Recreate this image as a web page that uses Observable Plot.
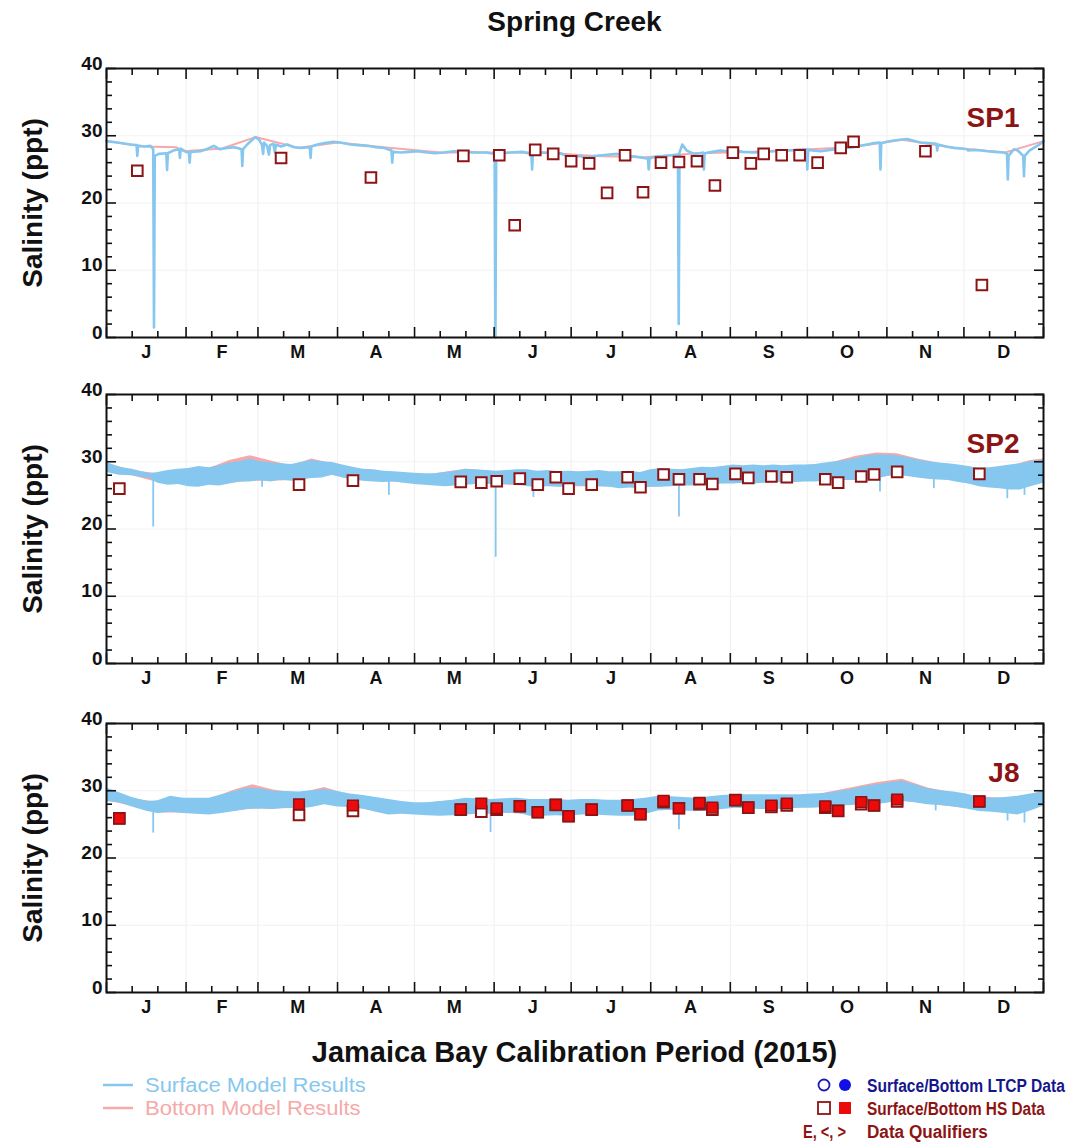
<!DOCTYPE html>
<html><head><meta charset="utf-8">
<script src="https://cdn.jsdelivr.net/npm/d3@7"></script>
<script src="https://cdn.jsdelivr.net/npm/@observablehq/plot@0.6"></script>
<style>
body{margin:0;background:#fff;}
#chart{position:relative;width:1076px;height:1144px;background:#fff;font-family:"Liberation Sans",Arial,Helvetica,sans-serif;overflow:hidden;}
.abs{position:absolute;}
</style></head><body><div id="chart"></div>
<script>
// ---------------- DATA ----------------
const monthLabels = ["J","F","M","A","M","J","J","A","S","O","N","D"];
const yTicks = [0,10,20,30,40];
const stations = ["SP1","SP2","J8"];

// Model results: [day of 2015 (0 = Jan 1), salinity ppt]
const sp1SurfaceModel = [[0,29.2],[4.2,29.0],[9.3,28.7],[11.7,28.6],[12.0,27.0],[12.3,28.5],[15,28.4],[17.1,28.5],[18.2,28.0],[18.5,1.5],[18.8,27.0],[20.4,27.3],[23.3,27.4],[23.6,24.9],[23.9,27.4],[26,27.8],[28.3,28.0],[28.6,26.7],[28.9,28.1],[31,27.6],[32.1,27.5],[32.4,26.0],[32.7,27.6],[36.6,27.7],[39,28.0],[41.8,28.5],[44,28.0],[47.0,28.2],[50,28.3],[52.6,28.0],[52.9,25.5],[53.2,28.0],[54.8,28.7],[56.5,29.3],[58.0,29.8],[59.5,29.4],[60.6,28.6],[61.0,27.3],[61.4,29.0],[62.5,28.5],[63.3,27.2],[63.7,28.6],[65.0,28.8],[65.6,27.5],[66.0,28.7],[68,28.4],[70.4,28.7],[73,28.3],[75.6,28.2],[79.2,28.3],[79.5,26.7],[79.8,28.4],[82.1,28.7],[85,28.9],[88.5,29.1],[91,29.0],[95.1,28.7],[98,28.6],[101.6,28.5],[105,28.3],[108.0,28.2],[111.0,27.8],[111.3,26.0],[111.6,27.6],[114.5,27.5],[118,27.6],[121.0,27.7],[124.9,27.5],[128,27.4],[131.4,27.5],[135.3,27.7],[140,27.6],[144.4,27.5],[148,27.5],[151.2,27.3],[151.5,0.0],[151.8,27.0],[154,27.4],[157.4,27.5],[162,27.6],[165.5,27.3],[165.8,25.0],[166.1,27.3],[170.3,27.5],[173,27.4],[176.9,27.4],[180.8,26.7],[184,27.0],[187,26.8],[189.8,27.0],[193,27.1],[195.7,27.2],[199,27.3],[202.8,27.0],[206,26.9],[209.3,26.7],[210.9,26.6],[211.2,25.0],[211.5,26.6],[214,26.9],[217.1,27.0],[220,27.1],[222.6,27.2],[222.9,2.0],[223.2,27.5],[224.3,28.7],[226,27.8],[228.8,27.3],[231,27.4],[232.4,27.5],[232.7,25.0],[233.0,27.4],[236,27.6],[239,27.8],[241.8,27.7],[245,27.8],[248,27.6],[252.2,27.5],[256,27.6],[260,27.7],[265.2,27.8],[269,27.9],[272.7,28.0],[273.0,25.0],[273.3,27.9],[275,27.8],[278.1,27.7],[282,27.9],[286,28.1],[291.1,28.3],[293.5,28.5],[296.3,28.7],[299,28.9],[301.2,29.0],[301.5,25.0],[301.8,28.9],[304,29.1],[306.7,29.3],[309,29.4],[311.9,29.5],[314,29.3],[317.1,29.0],[320,28.9],[323.3,28.8],[323.6,27.8],[323.9,28.7],[327,28.4],[330.1,28.2],[333,28.1],[335.3,28.0],[335.6,27.8],[338,27.9],[341,27.8],[343.1,27.7],[346,27.6],[349.5,27.5],[350.8,27.3],[351.1,23.5],[351.4,27.0],[353.5,28.0],[355,27.8],[357.1,27.0],[357.4,24.0],[357.7,27.0],[359.5,27.8],[361.2,28.2],[363,28.6],[364.5,29.0],[365,29.2]];
const sp1BottomModel = [[0,29.2],[15,28.4],[27,28.3],[30,27.7],[45,28.1],[58,29.8],[75,28.2],[90,29.0],[110,28.2],[130,27.5],[150,27.5],[170,27.5],[190,27.0],[210,26.8],[230,27.4],[250,27.6],[270,27.9],[290,28.3],[310,29.4],[330,28.2],[350,27.5],[365,29.2]];

// Banded model results: [day, low, high]
const sp2SurfaceBand = [[0,28.4,29.9],[5,28.0,29.2],[10,27.9,28.9],[15,27.6,28.4],[17,27.5,28.2],[20,26.8,28.4],[24,26.5,28.7],[28,26.6,28.9],[32,26.3,29.0],[36,26.2,29.3],[40,26.5,29.1],[44,26.4,29.4],[48,26.7,29.8],[52,27.0,30.0],[56,27.0,30.4],[60,27.2,30.0],[64,27.0,29.8],[68,27.3,29.7],[72,27.1,29.6],[76,27.3,29.9],[80,27.5,30.2],[84,27.6,30.0],[88,28.0,29.9],[92,27.6,29.5],[96,27.3,29.2],[100,27.1,28.9],[104,27.0,28.8],[108,26.9,28.6],[112,27.0,28.5],[116,26.8,28.4],[120,26.6,28.3],[124,26.5,28.2],[128,26.4,28.2],[132,26.3,28.4],[136,26.4,28.6],[140,26.5,28.9],[144,26.6,28.8],[148,26.7,28.7],[152,26.5,28.6],[156,26.6,28.7],[160,26.7,28.8],[164,26.3,28.8],[168,26.2,28.6],[172,26.3,28.7],[176,26.2,28.5],[180,26.2,28.6],[184,26.4,28.5],[188,26.3,28.6],[192,26.3,28.7],[196,26.2,28.5],[200,26.0,28.5],[204,26.1,28.6],[208,26.0,28.4],[212,26.2,28.8],[216,26.2,29.0],[220,26.3,28.9],[224,26.4,28.8],[228,26.4,29.0],[232,26.5,29.2],[236,26.6,29.1],[240,26.7,29.3],[244,26.7,29.5],[248,26.8,29.4],[252,26.7,29.5],[256,26.8,29.4],[260,26.9,29.5],[264,27.0,29.4],[268,26.9,29.5],[272,27.0,29.5],[276,27.0,29.6],[280,27.1,29.8],[284,27.2,30.0],[288,27.2,30.2],[292,27.2,30.5],[296,27.3,30.9],[300,27.4,31.0],[304,27.8,31.0],[308,28.0,30.9],[312,27.8,30.6],[316,27.6,30.3],[320,27.4,30.0],[324,27.3,29.8],[328,27.2,29.7],[332,26.9,29.5],[336,26.7,29.3],[340,26.3,29.0],[344,26.1,29.1],[348,26.0,29.3],[352,25.8,29.5],[356,25.8,29.7],[360,26.3,30.0],[365,26.8,30.2]];
const sp2BottomBand = [[0,28.5,29.8],[10,27.9,28.7],[20,26.9,28.2],[30,26.6,28.7],[40,26.6,29.0],[48,26.8,30.2],[56,27.1,30.9],[64,27.1,30.1],[72,27.2,29.4],[80,27.6,30.4],[88,28.0,29.7],[100,27.2,28.7],[112,27.0,28.3],[124,26.6,28.0],[140,26.6,28.9],[152,26.6,28.4],[164,26.4,28.5],[180,26.3,28.4],[196,26.3,28.3],[208,26.1,28.2],[220,26.4,28.7],[232,26.6,29.0],[244,26.8,29.3],[256,26.9,29.2],[268,27.0,29.3],[280,27.2,29.6],[292,27.3,30.8],[300,27.5,31.3],[308,28.1,31.2],[316,27.7,30.4],[328,27.3,29.5],[340,26.4,28.8],[352,25.9,29.3],[360,26.4,30.2],[365,26.9,30.4]];
// Short dips of the surface model: [day, lowest value, band level]
const sp2SurfaceDips = [[18.2,20.3,27.8],[60.6,26.2,27.5],[110,25.0,27.2],[151.6,15.8,27.0],[166.3,24.7,26.5],[223,21.8,27.0],[301.3,25.5,27.6],[322.3,26.0,27.5],[350.9,24.5,26.2],[357.6,25.0,26.2]];

const j8SurfaceBand = [[0,28.4,30.4],[5,28.2,29.7],[10,27.6,29.0],[16,26.9,28.4],[20,26.6,28.5],[25,26.8,29.2],[30,26.6,28.9],[35,26.5,28.9],[40,26.4,28.9],[45,26.6,29.4],[50,26.9,29.9],[55,27.2,30.4],[60,27.3,30.3],[65,27.2,29.9],[70,27.4,29.9],[75,27.3,29.8],[80,27.5,30.0],[85,27.9,30.2],[90,27.6,29.9],[95,27.5,29.5],[100,27.3,29.3],[105,26.8,29.0],[110,26.4,28.7],[115,26.5,28.4],[120,26.4,28.2],[125,26.3,28.2],[130,26.2,28.4],[135,26.3,28.6],[140,26.4,28.9],[145,26.5,28.8],[150,26.5,28.7],[155,26.6,28.8],[160,26.7,28.9],[165,26.2,28.7],[170,26.2,28.7],[175,26.3,28.7],[180,26.2,28.6],[185,26.4,28.7],[190,26.4,28.7],[195,26.3,28.6],[200,26.2,28.6],[205,26.2,28.7],[210,26.5,28.9],[215,27.0,29.2],[220,27.1,29.1],[225,27.0,29.0],[230,26.9,28.9],[235,27.0,29.1],[240,27.2,29.3],[245,27.4,29.4],[250,27.3,29.4],[255,27.2,29.4],[260,27.2,29.4],[265,27.3,29.4],[270,27.4,29.4],[275,27.4,29.5],[280,27.5,29.6],[285,27.7,29.9],[290,27.8,30.2],[295,27.9,30.6],[300,27.9,30.9],[305,28.2,31.2],[310,28.4,31.4],[315,28.2,30.9],[320,27.9,30.3],[325,27.8,30.0],[330,27.6,29.8],[335,27.3,29.5],[340,26.9,29.0],[345,26.8,28.9],[350,26.6,29.0],[355,26.4,29.2],[360,27.0,29.5],[365,27.7,29.8]];
const j8BottomBand = [[0,28.5,30.2],[10,27.7,28.8],[20,26.7,28.3],[30,26.7,28.7],[40,26.5,28.7],[50,27.0,30.1],[57,27.3,30.9],[65,27.3,30.1],[75,27.4,29.6],[85,28.0,30.5],[95,27.6,29.3],[105,26.9,28.8],[120,26.5,28.0],[140,26.5,28.7],[155,26.7,28.6],[170,26.3,28.5],[190,26.5,28.5],[205,26.3,28.5],[215,27.1,29.0],[230,27.0,28.7],[245,27.5,29.2],[260,27.3,29.2],[275,27.5,29.3],[290,27.9,30.4],[300,28.0,31.2],[310,28.5,31.7],[320,28.0,30.4],[335,27.4,29.3],[350,26.7,28.8],[360,27.1,29.4],[365,27.8,30.0]];
const j8SurfaceDips = [[18.2,23.7,27.5],[149.6,23.8,27.0],[223,24.2,27.3],[323,27.0,28.2],[351,25.5,27.0],[357.6,25.2,27.0]];

// HS sampling data
const sp1HsDates = ["2015-01-13","2015-03-10","2015-04-14","2015-05-20","2015-06-03","2015-06-09","2015-06-17","2015-06-24","2015-07-01","2015-07-08","2015-07-15","2015-07-22","2015-07-29","2015-08-05","2015-08-12","2015-08-19","2015-08-26","2015-09-02","2015-09-09","2015-09-14","2015-09-21","2015-09-28","2015-10-05","2015-10-14","2015-10-19","2015-11-16","2015-12-08"];
const sp1HsSurface = [24.8,26.7,23.8,27.0,27.1,16.7,27.9,27.3,26.2,25.9,21.5,27.1,21.6,26.0,26.1,26.2,22.6,27.5,25.9,27.3,27.1,27.1,26.0,28.2,29.1,27.7,7.8];

const sp2HsDates = ["2015-01-06","2015-03-17","2015-04-07","2015-05-19","2015-05-27","2015-06-02","2015-06-11","2015-06-18","2015-06-25","2015-06-30","2015-07-09","2015-07-23","2015-07-28","2015-08-06","2015-08-12","2015-08-20","2015-08-25","2015-09-03","2015-09-08","2015-09-17","2015-09-23","2015-10-08","2015-10-13","2015-10-22","2015-10-27","2015-11-05","2015-12-07"];
const sp2HsSurface = [26.0,26.6,27.2,27.0,26.9,27.1,27.5,26.6,27.7,26.0,26.6,27.7,26.2,28.1,27.4,27.4,26.7,28.2,27.6,27.8,27.7,27.4,26.9,27.8,28.1,28.5,28.2];

const j8HsDates = sp2HsDates;
const j8HsSurface = [25.9,26.4,27.0,27.2,26.9,27.2,27.7,26.8,27.9,26.2,27.2,27.8,26.5,28.3,27.4,28.0,27.2,28.6,27.5,27.6,27.8,27.5,27.0,28.0,27.8,28.4,28.4];
const j8HsBottom  = [25.9,28.0,27.8,27.2,28.1,27.4,27.7,26.8,27.9,26.2,27.2,27.8,26.5,28.5,27.4,28.2,27.5,28.6,27.5,27.8,28.1,27.7,27.0,28.3,27.8,28.7,28.4];

// Legend entries
const legendModel = [{label: "Surface Model Results", key: "surface"}, {label: "Bottom Model Results", key: "bottom"}];
const legendData = [
  {label: "Surface/Bottom LTCP Data", key: "ltcp"},
  {label: "Surface/Bottom HS Data", key: "hs"},
  {label: "Data Qualifiers", key: "qual", symbols: "E, <, >"}
];

// ---------------- STYLE ----------------
const BLUE = "#86c7ef", PINK = "#f5a9a9", DARKRED = "#8c1414", RED = "#ec0a0a", NAVY = "#16168c";
const FONT = '"Liberation Sans", Arial, Helvetica, sans-serif';
const t0 = Date.UTC(2015,0,1);
const toDate = d => new Date(t0 + d * 864e5);
const parse = d3.utcParse("%Y-%m-%d");
const monthStarts = d3.utcMonths(new Date(Date.UTC(2015,0,1)), new Date(Date.UTC(2016,0,2)));
const months = monthStarts.slice(0,12);
const minorX = months.flatMap(m => [d3.utcDay.offset(m,10), d3.utcDay.offset(m,20)]);
const midMonths = months.map(m => new Date((+m + +d3.utcMonth.offset(m,1))/2));
const minorY = d3.range(0,41,2).filter(v => v % 10 !== 0);

function panel(cfg) {
  const marks = [
    Plot.ruleX(monthStarts.slice(1,12), {stroke: "#efefef", strokeWidth: 1}),
    Plot.ruleY([10,20,30], {stroke: "#f2f2f2", strokeWidth: 1})
  ];
  if (cfg.botBand) marks.push(Plot.areaY(cfg.botBand, {x: d => toDate(d[0]), y1: d => d[1], y2: d => d[2], fill: PINK}));
  if (cfg.surfBand) marks.push(Plot.areaY(cfg.surfBand, {x: d => toDate(d[0]), y1: d => d[1], y2: d => d[2], fill: BLUE}));
  if (cfg.dips) marks.push(Plot.ruleX(cfg.dips, {x: d => toDate(d[0]), y1: d => d[1], y2: d => d[2], stroke: BLUE, strokeWidth: 1.8}));
  if (cfg.botLine) marks.push(Plot.line(cfg.botLine, {x: d => toDate(d[0]), y: d => d[1], stroke: PINK, strokeWidth: 2}));
  if (cfg.surfLine) marks.push(Plot.line(cfg.surfLine, {x: d => toDate(d[0]), y: d => d[1], stroke: BLUE, strokeWidth: 2.6}));
  const hs = cfg.hsDates.map((s,i) => ({date: parse(s), surface: cfg.hsSurface[i], bottom: cfg.hsBottom ? cfg.hsBottom[i] : null}));
  marks.push(Plot.dot(hs, {x: "date", y: "surface", symbol: "square", r: 6, fill: "white", stroke: DARKRED, strokeWidth: 2}));
  if (cfg.hsBottom) marks.push(Plot.dot(hs, {x: "date", y: "bottom", symbol: "square", r: 6, fill: RED, stroke: DARKRED, strokeWidth: 1.5}));
  const blank = () => "";
  marks.push(
    Plot.axisX({anchor: "bottom", ticks: monthStarts, tickSize: 10, dy: -10, tickFormat: blank, strokeWidth: 1.6}),
    Plot.axisX({anchor: "bottom", ticks: minorX, tickSize: 6, dy: -6, tickFormat: blank, strokeWidth: 1.6}),
    Plot.axisX({anchor: "top", ticks: monthStarts, tickSize: 10, dy: 10, tickFormat: blank, strokeWidth: 1.6}),
    Plot.axisX({anchor: "top", ticks: minorX, tickSize: 6, dy: 6, tickFormat: blank, strokeWidth: 1.6}),
    Plot.axisY({anchor: "left", ticks: yTicks, tickSize: 10, dx: 10, tickFormat: blank, strokeWidth: 1.6}),
    Plot.axisY({anchor: "left", ticks: minorY, tickSize: 6, dx: 6, tickFormat: blank, strokeWidth: 1.6}),
    Plot.axisY({anchor: "right", ticks: yTicks, tickSize: 10, dx: -10, tickFormat: blank, strokeWidth: 1.6}),
    Plot.axisY({anchor: "right", ticks: minorY, tickSize: 6, dx: -6, tickFormat: blank, strokeWidth: 1.6}),
    Plot.axisX({anchor: "bottom", ticks: midMonths, tickSize: 0, tickPadding: 8, tickFormat: d => monthLabels[d.getUTCMonth()], fontSize: 18, fontWeight: "bold"}),
    Plot.axisY({anchor: "left", ticks: yTicks, tickSize: 0, tickPadding: 4, dy: -5, fontSize: 19, fontWeight: "bold", label: null}),
    Plot.frame({stroke: "#111", strokeWidth: 2}),
    Plot.text(["Salinity (ppt)"], {text: d => d, frameAnchor: "left", dx: -73, rotate: -90, textAnchor: "middle", lineAnchor: "middle", fontSize: 28, fontWeight: "bold", fill: "#111"}),
    Plot.text([cfg.station], {text: d => d, frameAnchor: "top-right", dx: -24, dy: 50, textAnchor: "end", lineAnchor: "middle", fontSize: 28, fontWeight: "bold", fill: DARKRED})
  );
  return Plot.plot({
    width: 1076, height: 330,
    marginLeft: 106, marginRight: 33, marginTop: 10, marginBottom: 51,
    x: {type: "utc", domain: [new Date(t0), new Date(Date.UTC(2016,0,1))], label: null},
    y: {domain: [0, 40], label: null},
    style: {fontFamily: FONT, color: "#111", background: "transparent", overflow: "visible"},
    marks
  });
}

const chart = document.getElementById("chart");
function place(el, top, left) { el.classList.add("abs"); el.style.top = top + "px"; el.style.left = (left||0) + "px"; chart.appendChild(el); }

const title = document.createElement("div");
title.textContent = "Spring Creek";
Object.assign(title.style, {width: "937px", textAlign: "center", fontSize: "28px", fontWeight: "bold", lineHeight: "30px", color: "#111"});
place(title, 7, 106);

const cfgs = [
  {station: stations[0], surfLine: sp1SurfaceModel, botLine: sp1BottomModel, hsDates: sp1HsDates, hsSurface: sp1HsSurface},
  {station: stations[1], surfBand: sp2SurfaceBand, botBand: sp2BottomBand, dips: sp2SurfaceDips, hsDates: sp2HsDates, hsSurface: sp2HsSurface},
  {station: stations[2], surfBand: j8SurfaceBand, botBand: j8BottomBand, dips: j8SurfaceDips, hsDates: j8HsDates, hsSurface: j8HsSurface, hsBottom: j8HsBottom}
];
const tops = [57.5, 384, 712.5];
cfgs.forEach((c,i) => place(panel(c), tops[i], 0));

const xlab = document.createElement("div");
xlab.textContent = "Jamaica Bay Calibration Period (2015)";
Object.assign(xlab.style, {width: "937px", textAlign: "center", fontSize: "29px", fontWeight: "bold", lineHeight: "32px", color: "#111"});
place(xlab, 1036, 106);

// Legend (condensed text obtained by horizontal scaling to the reference widths)
const lg = d3.create("svg").attr("width", 1076).attr("height", 76).style("font-family", FONT);
place(lg.node(), 1068, 0);
function fitText(x, y, str, width, color, weight, size, anchorEnd) {
  const t = lg.append("text").attr("x", 0).attr("y", 0).attr("dy", "0.35em").attr("fill", color)
    .attr("font-size", size).attr("font-weight", weight).text(str);
  const w = t.node().getComputedTextLength() || width;
  const s = Math.min(1.05, width / w);
  const x0 = anchorEnd ? x - w * s : x;
  t.attr("transform", `translate(${x0},${y}) scale(${s},1)`);
}
const modelColor = {surface: BLUE, bottom: PINK};
const modelWidth = {surface: 221, bottom: 219};
legendModel.forEach((d,i) => {
  const y = 17 + i*23;
  lg.append("line").attr("x1",103).attr("x2",133).attr("y1",y).attr("y2",y).attr("stroke",modelColor[d.key]).attr("stroke-width",2.5);
  fitText(145, y, d.label, modelWidth[d.key], modelColor[d.key], "normal", 21);
});
lg.append("circle").attr("cx",824).attr("cy",17).attr("r",5.5).attr("fill","white").attr("stroke","#1a1ab4").attr("stroke-width",1.8);
lg.append("circle").attr("cx",845).attr("cy",17).attr("r",6).attr("fill","#1010e6");
lg.append("rect").attr("x",818).attr("y",34).attr("width",12).attr("height",12).attr("fill","white").attr("stroke",DARKRED).attr("stroke-width",1.8);
lg.append("rect").attr("x",839).attr("y",34).attr("width",12).attr("height",12).attr("fill",RED);
const dataColor = {ltcp: NAVY, hs: DARKRED, qual: DARKRED};
const dataWidth = {ltcp: 198, hs: 178, qual: 121};
legendData.forEach((d,i) => {
  const y = 17 + i*23;
  fitText(867, y, d.label, dataWidth[d.key], dataColor[d.key], "bold", 19);
  if (d.symbols) fitText(846, y, d.symbols, 43, dataColor[d.key], "bold", 19, true);
});
</script></body></html>
